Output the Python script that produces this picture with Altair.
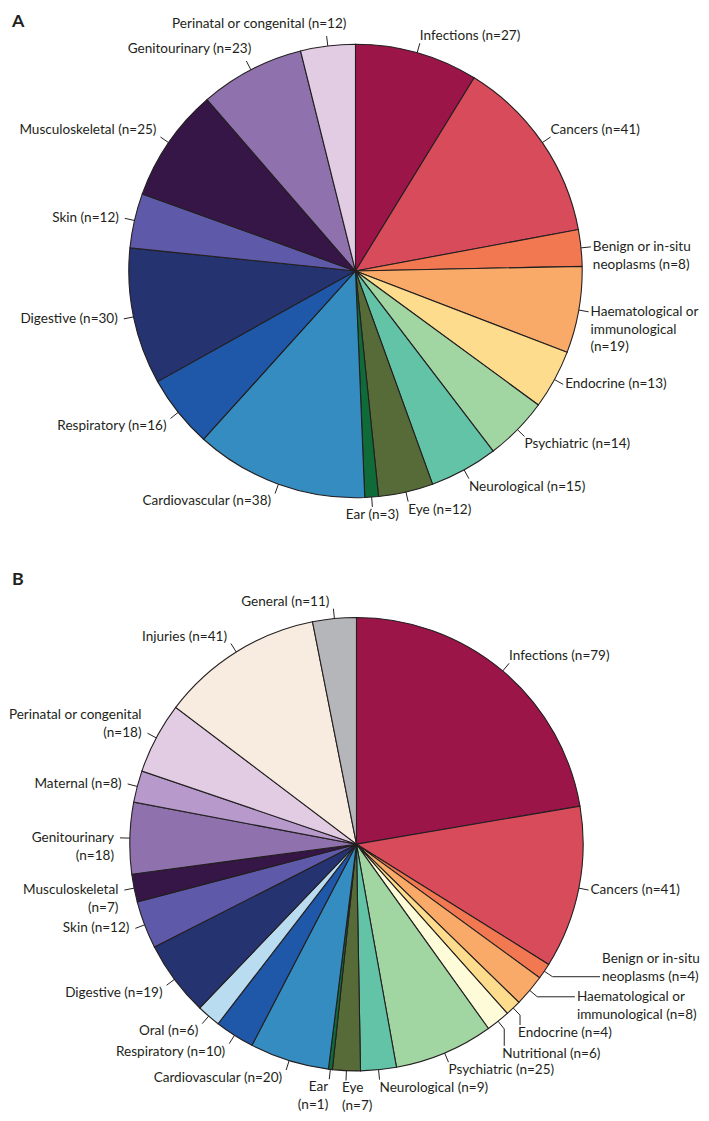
import math
import altair as alt
import pandas as pd

# ---------------- data (clockwise from 12 o'clock) ----------------
A_CATEGORIES = ["Infections", "Cancers", "Benign or in-situ neoplasms",
                "Haematological or immunological", "Endocrine", "Psychiatric",
                "Neurological", "Eye", "Ear", "Cardiovascular", "Respiratory",
                "Digestive", "Skin", "Musculoskeletal", "Genitourinary",
                "Perinatal or congenital"]
A_COUNTS = [27, 41, 8, 19, 13, 14, 15, 12, 3, 38, 16, 30, 12, 25, 23, 12]
A_LABELS = ["Infections (n=27)", "Cancers (n=41)", "Benign or in-situ\nneoplasms (n=8)",
            "Haematological or\nimmunological\n(n=19)", "Endocrine (n=13)",
            "Psychiatric (n=14)", "Neurological (n=15)", "Eye (n=12)", "Ear (n=3)",
            "Cardiovascular (n=38)", "Respiratory (n=16)", "Digestive (n=30)",
            "Skin (n=12)", "Musculoskeletal (n=25)", "Genitourinary (n=23)",
            "Perinatal or congenital (n=12)"]

B_CATEGORIES = ["Infections", "Cancers", "Benign or in-situ neoplasms",
                "Haematological or immunological", "Endocrine", "Nutritional",
                "Psychiatric", "Neurological", "Eye", "Ear", "Cardiovascular",
                "Respiratory", "Oral", "Digestive", "Skin", "Musculoskeletal",
                "Genitourinary", "Maternal", "Perinatal or congenital", "Injuries",
                "General"]
B_COUNTS = [79, 41, 4, 8, 4, 6, 25, 9, 7, 1, 20, 10, 6, 19, 12, 7, 18, 8, 18, 41, 11]
B_LABELS = ["Infections (n=79)", "Cancers (n=41)", "Benign or in-situ\nneoplasms (n=4)",
            "Haematological or\nimmunological (n=8)", "Endocrine (n=4)",
            "Nutritional (n=6)", "Psychiatric (n=25)", "Neurological (n=9)",
            "Eye\n(n=7)", "Ear\n(n=1)", "Cardiovascular (n=20)", "Respiratory (n=10)",
            "Oral (n=6)", "Digestive (n=19)", "Skin (n=12)", "Musculoskeletal\n(n=7)",
            "Genitourinary\n(n=18)", "Maternal (n=8)", "Perinatal or congenital\n(n=18)",
            "Injuries (n=41)", "General (n=11)"]

COLOR_DOMAIN = ["Infections", "Cancers", "Benign or in-situ neoplasms",
                "Haematological or immunological", "Endocrine", "Nutritional",
                "Psychiatric", "Neurological", "Eye", "Ear", "Cardiovascular",
                "Respiratory", "Oral", "Digestive", "Skin", "Musculoskeletal",
                "Genitourinary", "Maternal", "Perinatal or congenital", "Injuries",
                "General"]
COLOR_RANGE = ["#9c1549", "#d74b5b", "#f27851", "#f9aa69", "#fddc8d", "#fefcd8",
               "#a1d5a2", "#63c3a7", "#566b38", "#0f6b38", "#358cc0", "#1f58a8",
               "#b9dcf1", "#253370", "#5e59a8", "#351646", "#8f71ae", "#b79acb",
               "#e2cce4", "#f8ebdf", "#b5b6ba"]

# ---------------- layout / style ----------------
INK = "#231f20"
FONT = "Lato"
FS = 13.7
LH = 18
TICK = 10
PANEL_W = 693
A_H = 552
B_H = 553
A_GEOM = dict(cx=347, cy=260, r=229)
B_GEOM = dict(cx=348, cy=287, r=229)

A_LAYOUT = {
    "Ear": dict(align="center"),
    "Genitourinary": dict(dx=9, dy=-5),
    "Perinatal or congenital": dict(dx=24, dy=-5),
}
B_LAYOUT = {
    "Benign or in-situ neoplasms": dict(ext=("h", 48), align="left", base="middle", anchor=1),
    "Haematological or immunological": dict(ext=("h", 38), align="left", base="middle", anchor=0),
    "Endocrine": dict(ext=("v", 10), align="left", base="top", dx=-2),
    "Nutritional": dict(ext=("v", 17), align="left", base="top", dx=-2),
    "Eye": dict(align="left", dx=-4),
    "Ear": dict(align="right", dx=3),
    "Perinatal or congenital": dict(anchor=1),
}


def build(cats, counts, labels, g, layout):
    total = float(sum(counts))
    arcs, segs, texts = [], [], []
    cum = 0.0
    for i, (c, n, lab) in enumerate(zip(cats, counts, labels)):
        arcs.append(dict(idx=i, category=c, count=n))
        mid = (cum + n / 2.0) / total * 2 * math.pi
        cum += n
        s, co = math.sin(mid), math.cos(mid)
        o = layout.get(c, {})
        x0 = g["cx"] + g["r"] * s
        y0 = g["cy"] - g["r"] * co
        x1 = g["cx"] + (g["r"] + TICK) * s
        y1 = g["cy"] - (g["r"] + TICK) * co
        segs.append(dict(x=x0, y=y0, x2=x1, y2=y1))
        ax, ay = x1, y1
        if "ext" in o:
            d, ln = o["ext"]
            if d == "h":
                ax = x1 + (ln if s > 0 else -ln)
            else:
                ay = y1 + (ln if co < 0 else -ln)
            segs.append(dict(x=x1, y=y1, x2=ax, y2=ay))
        align = o.get("align", "left" if s > 0.08 else ("right" if s < -0.08 else "center"))
        base = o.get("base", "bottom" if co > 0.55 else ("top" if co < -0.55 else "middle"))
        lines = lab.split("\n")
        nl = len(lines)
        if align == "left":
            tx = ax + (2 if base == "middle" else 0)
        elif align == "right":
            tx = ax - (6 if base == "middle" else 4)
        else:
            tx = ax
        tx += o.get("dx", 0)
        if base == "bottom":
            first = ay - 7 - (nl - 1) * LH
        elif base == "top":
            first = ay + 8
        else:
            first = ay - o.get("anchor", 0) * LH
        first += o.get("dy", 0)
        for k, line in enumerate(lines):
            texts.append(dict(x=tx, y=first + k * LH, text=line, align=align))
    return pd.DataFrame(arcs), pd.DataFrame(segs), pd.DataFrame(texts)


def panel(cats, counts, labels, g, layout, letter, h, letter_y):
    arcs, segs, texts = build(cats, counts, labels, g, layout)
    pie = alt.Chart(arcs).mark_arc(outerRadius=g["r"], stroke=INK, strokeWidth=1.1).encode(
        theta=alt.Theta("count:Q", stack=True),
        order=alt.Order("idx:Q"),
        color=alt.Color("category:N", scale=alt.Scale(domain=COLOR_DOMAIN, range=COLOR_RANGE),
                        legend=None),
        x=alt.value(g["cx"]),
        y=alt.value(g["cy"]),
    )
    lead = alt.Chart(segs).mark_rule(color=INK, strokeWidth=1).encode(
        x=alt.X("x:Q", scale=None, axis=None),
        y=alt.Y("y:Q", scale=None, axis=None),
        x2="x2:Q", y2="y2:Q",
    )
    layers = [pie, lead]
    for al in ["left", "center", "right"]:
        sub = texts[texts["align"] == al]
        if len(sub) == 0:
            continue
        layers.append(
            alt.Chart(sub).mark_text(align=al, baseline="middle", font=FONT, fontSize=FS,
                                     color=INK).encode(
                x=alt.X("x:Q", scale=None, axis=None),
                y=alt.Y("y:Q", scale=None, axis=None),
                text="text:N",
            )
        )
    layers.append(
        alt.Chart(pd.DataFrame({"t": [letter]})).mark_text(
            align="left", baseline="middle", font=FONT, fontSize=18, fontWeight="bold",
            color=INK).encode(x=alt.value(0), y=alt.value(letter_y), text="t:N")
    )
    return alt.layer(*layers).properties(width=PANEL_W, height=h)


pa = panel(A_CATEGORIES, A_COUNTS, A_LABELS, A_GEOM, A_LAYOUT, "A", A_H, 9)
pb = panel(B_CATEGORIES, B_COUNTS, B_LABELS, B_GEOM, B_LAYOUT, "B", B_H, 20)

chart = alt.vconcat(pa, pb, spacing=0).properties(padding=0).configure_view(stroke=None)
chart.save("out.html", embed_options={"renderer": "svg", "actions": False})
